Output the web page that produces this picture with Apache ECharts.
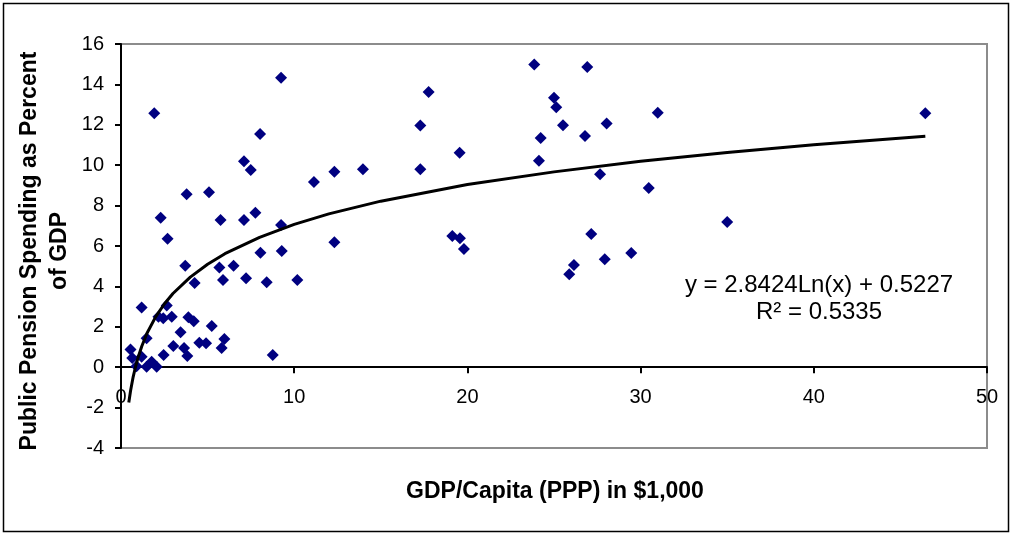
<!DOCTYPE html>
<html>
<head>
<meta charset="utf-8">
<script src="https://cdn.jsdelivr.net/npm/echarts@6/dist/echarts.min.js"></script>
<style>
html,body{margin:0;padding:0;background:#fff;}
#chart{width:1013px;height:535px;}
</style>
</head>
<body>
<div id="chart"></div>
<script>
// GDP per capita (PPP, $1,000) and public pension spending (% of GDP)
const gdpPerCapita = [
  1.92, 9.24, 8.03, 7.10, 7.49, 11.14, 3.79, 5.08, 2.29, 5.75, 7.10, 7.76, 9.24,
  2.69, 8.05, 9.28, 3.71, 5.68, 6.50, 4.25, 5.89, 7.22, 8.41, 10.18, 8.76,
  1.19, 2.64, 2.16, 2.93, 2.44, 3.89, 4.20, 5.24, 3.44, 1.48, 4.52, 4.91, 5.97,
  5.81, 3.02, 3.64, 3.83, 2.46, 0.55, 1.19, 1.77, 2.06, 1.48, 0.90, 0.65,
  23.86, 26.92, 17.76, 25.00, 25.13, 30.99, 17.28, 25.52, 28.04, 24.23, 26.79,
  19.55, 24.13, 17.28, 13.97, 12.32, 27.66, 30.47, 12.32, 19.13, 19.57, 19.80,
  27.15, 27.93, 29.46, 26.15, 25.88, 35.00, 46.44
];
const pensionSpending = [
  12.57, 14.33, 11.54, 10.20, 9.76, 9.17, 8.56, 8.66, 7.40, 7.29, 7.29, 7.65, 7.04,
  6.36, 5.67, 5.75, 5.02, 4.94, 5.02, 4.17, 4.32, 4.40, 4.20, 4.32, 0.60,
  2.95, 3.05, 2.50, 2.50, 2.42, 2.47, 2.27, 2.04, 1.73, 1.43, 1.21, 1.18, 1.40,
  0.95, 1.05, 0.95, 0.55, 0.60, 0.88, 0.52, 0.27, 0.02, 0.02, 0.05, 0.45,
  14.98, 14.86, 13.62, 13.34, 12.87, 12.60, 11.96, 11.98, 12.07, 11.35, 11.45,
  10.62, 10.22, 9.80, 9.80, 9.68, 9.55, 8.87, 6.18, 6.50, 6.38, 5.85,
  6.59, 5.34, 5.65, 5.06, 4.60, 7.19, 12.57
];
// Logarithmic trendline
const trendX = [0.45, 0.55, 0.7, 0.85, 1, 1.2, 1.5, 2, 2.5, 3, 4, 5, 6, 8, 10, 12, 15, 20, 25, 30, 35, 40, 46.44];
const trendY = [-1.75, -1.18, -0.49, 0.06, 0.52, 1.04, 1.68, 2.49, 3.13, 3.65, 4.46, 5.10, 5.62, 6.43, 7.07, 7.59, 8.22, 9.04, 9.67, 10.19, 10.63, 11.01, 11.43];
const xTicks = {min: 0, max: 50, interval: 10};
const yTicks = {min: -4, max: 16, interval: 2};
const equationText = 'y = 2.8424Ln(x) + 0.5227';
const r2Text = 'R² = 0.5335';
const xTitle = 'GDP/Capita (PPP) in $1,000';
const yTitle = 'Public Pension Spending as Percent\nof GDP';

const FONT = '"Liberation Sans", Arial, sans-serif';
const chart = echarts.init(document.getElementById('chart'), null, {renderer: 'canvas'});

const scatterData = gdpPerCapita.map((x, i) => [x, pensionSpending[i]]);
const trendData = trendX.map((x, i) => [x, trendY[i]]);

chart.setOption({
  animation: false,
  backgroundColor: '#fff',
  grid: {
    left: 121, top: 44, right: 26, bottom: 87,
    show: true, borderColor: '#8c8c8c', borderWidth: 2, backgroundColor: 'transparent'
  },
  xAxis: {
    type: 'value', min: xTicks.min, max: xTicks.max, interval: xTicks.interval,
    splitLine: {show: false},
    axisLine: {onZero: true, lineStyle: {color: '#000', width: 2}},
    axisTick: {show: true, inside: false, length: 6, lineStyle: {color: '#000', width: 2}},
    axisLabel: {color: '#000', fontFamily: FONT, fontSize: 20, margin: -61, showMinLabel: true, showMaxLabel: true}
  },
  yAxis: {
    type: 'value', min: yTicks.min, max: yTicks.max, interval: yTicks.interval,
    splitLine: {show: false},
    axisLine: {show: true, onZero: false, lineStyle: {color: '#000', width: 2}},
    axisTick: {show: true, inside: false, length: 6, lineStyle: {color: '#000', width: 2}},
    axisLabel: {color: '#000', fontFamily: FONT, fontSize: 20, margin: 17, showMinLabel: true, showMaxLabel: true}
  },
  series: [
    {
      type: 'scatter', data: scatterData, symbol: 'diamond', symbolSize: 12,
      itemStyle: {color: '#000080', opacity: 1}, z: 3
    },
    {
      type: 'line', data: trendData, showSymbol: false, symbol: 'none', smooth: false,
      lineStyle: {color: '#000', width: 3}, z: 4
    }
  ],
  graphic: [
    {type: 'rect', shape: {x: 3.5, y: 3.5, width: 1005, height: 528}, style: {fill: 'none', stroke: '#000', lineWidth: 1.5}, z: 100},
    {type: 'text', x: 45, y: 251, rotation: Math.PI / 2,
      style: {text: yTitle, fontFamily: FONT, fontSize: 23, fontWeight: 'bold', fill: '#000', align: 'center', verticalAlign: 'middle', lineHeight: 30}, z: 100},
    {type: 'text', x: 555, y: 492,
      style: {text: xTitle, fontFamily: FONT, fontSize: 23, fontWeight: 'bold', fill: '#000', align: 'center', verticalAlign: 'middle'}, z: 100},
    {type: 'text', x: 819, y: 285,
      style: {text: equationText, fontFamily: FONT, fontSize: 24, fill: '#000', align: 'center', verticalAlign: 'middle'}, z: 100},
    {type: 'text', x: 819, y: 312,
      style: {text: r2Text, fontFamily: FONT, fontSize: 24, fill: '#000', align: 'center', verticalAlign: 'middle'}, z: 100}
  ]
});
</script>
</body>
</html>
